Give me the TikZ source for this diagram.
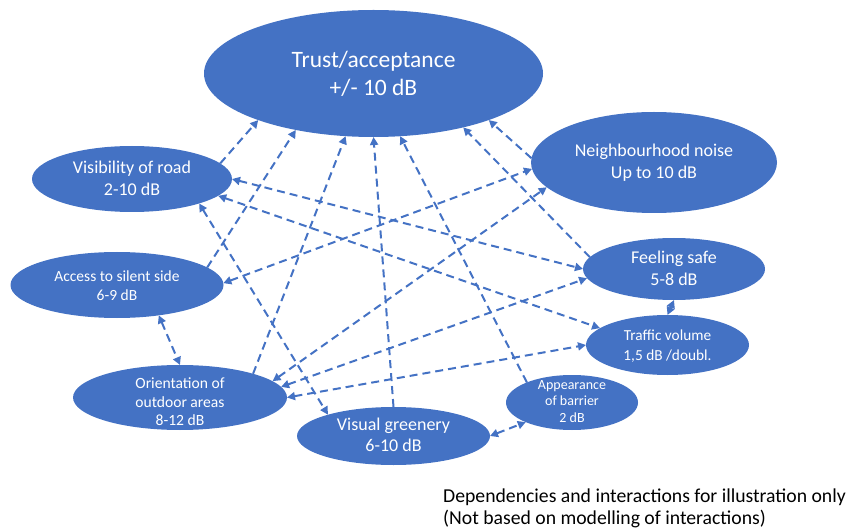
\documentclass[tikz,border=0pt]{standalone}
\usepackage{fontspec}
\setmainfont{Carlito}
\usepackage{xcolor}
\usepackage{tikz}
\usetikzlibrary{shapes.geometric,arrows.meta}
\definecolor{ovalblue}{HTML}{4472C4}
\newcommand{\ovaltext}[2][0pt]{\smash{\raisebox{\dimexpr0.5\depth-0.5\height-#1\relax}{\begin{tabular}{@{}c@{}}#2\end{tabular}}}}

\begin{document}
\begin{tikzpicture}[x=1pt,y=-1pt,
  bubble/.style={ellipse, fill=ovalblue, text=white, inner sep=0pt, outer sep=0pt},
  link/.style={ovalblue, line width=2pt, dash pattern=on 8pt off 5pt, -{Triangle[length=8pt,width=8pt]}},
  twoway/.style={link, {Triangle[length=8pt,width=8pt]}-{Triangle[length=8pt,width=8pt]}}]
\useasboundingbox (0,0) rectangle (851,529);
\node at (373.5,73.5) (T) [bubble, minimum width=339pt, minimum height=127pt, font=\fontsize{23.5}{28}\selectfont] {\ovaltext[2pt]{Trust/acceptance\\+/- 10 dB}};
\node at (132,179) (V) [bubble, minimum width=200pt, minimum height=66pt, font=\fontsize{18}{22}\selectfont] {\ovaltext[1pt]{Visibility of road\\2-10 dB}};
\node at (654,162.5) (N) [bubble, minimum width=246pt, minimum height=101pt, font=\fontsize{18}{22}\selectfont] {\ovaltext[1pt]{Neighbourhood noise\\Up to 10 dB}};
\node at (117,285) (S) [bubble, minimum width=213pt, minimum height=66pt, font=\fontsize{15.5}{20}\selectfont] {\ovaltext[2pt]{Access to silent side\\6-9 dB}};
\node at (674,269) (F) [bubble, minimum width=182pt, minimum height=62pt, font=\fontsize{18}{22}\selectfont] {\ovaltext[1pt]{Feeling safe\\5-8 dB}};
\node at (667.5,345) (Q) [bubble, minimum width=163pt, minimum height=60pt, font=\fontsize{15.3}{20}\selectfont] {\ovaltext[1pt]{Traffic volume\\1,5 dB /doubl.}};
\node at (180,397.5) (O) [bubble, minimum width=214pt, minimum height=65pt, font=\fontsize{15.6}{18.5}\selectfont] {\ovaltext[6pt]{Orientation of\\outdoor areas\\8-12 dB}};
\node at (393.5,436) (G) [bubble, minimum width=193pt, minimum height=58pt, font=\fontsize{18}{21}\selectfont] {\ovaltext[1pt]{Visual greenery\\6-10 dB}};
\node at (572,402.5) (B) [bubble, minimum width=132pt, minimum height=55pt, font=\fontsize{14}{16.7}\selectfont] {\ovaltext{Appearance\\of barrier\\2 dB}};
\node at (443,489) (C) [anchor=north west, inner sep=0pt, align=left, font=\fontsize{19.7}{22}\selectfont] {Dependencies and interactions for illustration only\\(Not based on modelling of interactions)};
% influences on trust
\draw[link] (V.10) -- (T.202);
\draw[link] (S.11) -- (T.216);
\draw[link] (O.18) -- (T.246);
\draw[link] (G.90) -- (T.270);
\draw[link] (B.156) -- (T.293);
\draw[link] (F.172) -- (T.329);
\draw[link] (N.178) -- (T.338);
% interactions
\draw[twoway] (V.0) -- (F.180);
\draw[twoway] (V.349) -- (Q.166);
\draw[twoway] (V.340) -- (G.162);
\draw[twoway] (S.1) -- (N.183);
\draw[twoway] (O.10) -- (N.193);
\draw[twoway] (O.6) -- (F.186);
\draw[twoway] (O.0) -- (Q.180);
\draw[twoway] (S.324) -- (O.90);
\draw[twoway] (G.0) -- (B.203);
\draw[twoway] (F.270) -- (Q.90);
\end{tikzpicture}
\end{document}
